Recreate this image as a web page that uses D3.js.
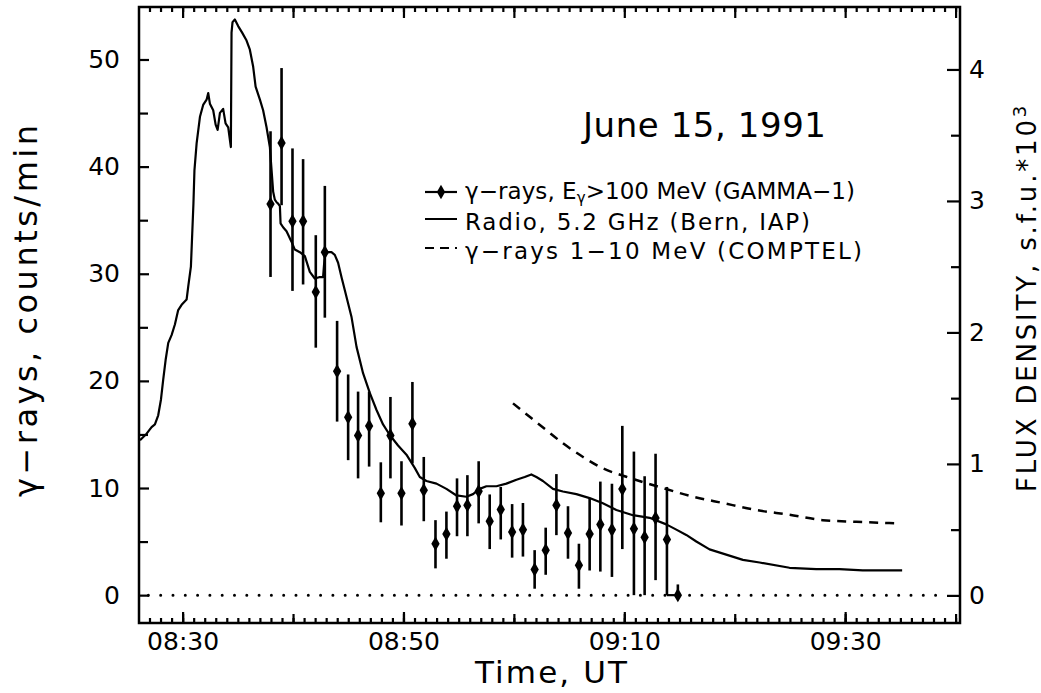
<!DOCTYPE html>
<html>
<head>
<meta charset="utf-8">
<script src="https://cdn.jsdelivr.net/npm/d3@7"></script>
<style>
body { margin: 0; background: #fff; }
text { font-family: "DejaVu Sans", sans-serif; fill: #000; }
</style>
</head>
<body>
<svg id="chart" width="1041" height="693"></svg>
<script>
// times are minutes after 08:00 UT
var gammaTime = [37.96, 38.96, 39.95, 40.91, 42.06, 42.88, 43.99, 44.99, 45.89, 46.89, 47.95, 48.82, 49.82, 50.81, 51.84, 52.9, 53.89, 54.85, 55.79, 56.81, 57.81, 58.81, 59.84, 60.82, 61.88, 62.88, 63.85, 64.9, 65.89, 66.86, 67.83, 68.88, 69.82, 70.87, 71.84, 72.83, 73.86, 74.85];
var gammaRate = [36.5, 42.2, 34.9, 34.9, 28.3, 32.0, 20.9, 16.6, 14.9, 15.8, 9.5, 14.9, 9.5, 16.0, 9.8, 4.8, 5.7, 8.3, 8.4, 9.7, 6.9, 8.0, 5.9, 6.1, 2.4, 4.2, 8.4, 5.8, 2.8, 5.7, 6.6, 6.1, 9.9, 6.2, 5.4, 7.2, 5.2, 0];
var gammaHigh = [43.3, 49.2, 41.7, 40.7, 33.6, 38.2, 25.6, 20.6, 19.0, 19.0, 12.4, 18.5, 12.5, 19.9, 12.9, 7.0, 7.8, 10.9, 11.2, 12.5, 9.4, 10.1, 8.5, 8.6, 4.2, 6.3, 11.3, 8.3, 4.8, 9.0, 10.6, 10.4, 15.8, 13.4, 11.1, 13.2, 10.1, 1.0];
var gammaLow = [29.7, 36.4, 28.4, 29.0, 23.1, 25.9, 16.2, 12.6, 10.9, 12.0, 6.8, 10.9, 6.5, 12.3, 6.9, 2.5, 3.4, 5.5, 5.5, 6.7, 4.3, 5.2, 3.5, 3.6, 0.6, 1.9, 5.6, 3.4, 0.6, 2.3, 2.2, 1.7, 4.3, 0, 0, 1.4, 0, 0];

// radio flux density, s.f.u. * 10^3 (right axis)
var radioTime = [26.14, 26.74, 27.19, 27.49, 27.79, 28.04, 28.24, 28.46, 28.70, 29.00, 29.30, 29.60, 29.91, 30.36, 30.51, 30.75, 30.87, 30.98, 31.07, 31.27, 31.57, 31.86, 32.17, 32.32, 32.47, 32.77, 32.99, 33.17, 33.38, 33.67, 33.89, 34.13, 34.37, 34.43, 34.52, 34.73, 35.03, 35.39, 35.79, 36.09, 36.39, 36.61, 37.00, 37.29, 37.60, 37.90, 38.05, 38.20, 38.35, 38.51, 38.65, 38.81, 38.87, 39.10, 39.41, 39.86, 40.16, 40.62, 41.07, 41.52, 41.97, 42.36, 42.72, 42.88, 43.18, 43.48, 43.78, 44.08, 44.39, 44.69, 44.99, 45.29, 45.75, 46.34, 46.95, 47.56, 48.15, 48.76, 49.51, 50.27, 51.02, 51.48, 52.08, 52.99, 53.89, 54.80, 55.70, 56.30, 56.90, 57.51, 58.42, 59.32, 60.23, 60.98, 61.58, 62.04, 62.63, 63.54, 64.44, 65.66, 66.86, 68.06, 69.28, 70.78, 72.29, 73.80, 74.71, 75.61, 76.52, 77.72, 79.23, 80.74, 82.25, 84.96, 87.38, 89.48, 91.59, 95.16];
var radioFlux = [1.18, 1.23, 1.28, 1.30, 1.37, 1.49, 1.64, 1.79, 1.92, 1.98, 2.06, 2.17, 2.21, 2.25, 2.35, 2.50, 2.75, 2.98, 3.23, 3.44, 3.64, 3.73, 3.77, 3.82, 3.74, 3.69, 3.58, 3.54, 3.67, 3.70, 3.59, 3.56, 3.41, 4.28, 4.36, 4.38, 4.33, 4.28, 4.22, 4.15, 4.02, 3.87, 3.77, 3.69, 3.56, 3.41, 3.24, 3.07, 3.01, 2.99, 2.98, 2.96, 2.83, 2.80, 2.77, 2.69, 2.63, 2.61, 2.58, 2.46, 2.41, 2.42, 2.42, 2.59, 2.61, 2.61, 2.59, 2.53, 2.42, 2.32, 2.22, 2.12, 1.89, 1.69, 1.54, 1.41, 1.30, 1.22, 1.14, 1.07, 0.97, 0.90, 0.87, 0.85, 0.81, 0.76, 0.75, 0.77, 0.81, 0.83, 0.83, 0.85, 0.88, 0.90, 0.92, 0.90, 0.87, 0.81, 0.79, 0.77, 0.74, 0.70, 0.65, 0.61, 0.59, 0.54, 0.50, 0.46, 0.41, 0.35, 0.31, 0.27, 0.25, 0.21, 0.20, 0.20, 0.19, 0.19];

// COMPTEL 1-10 MeV (left axis units)
var comptelTime = [59.92, 61.43, 62.94, 64.45, 66.26, 68.07, 70.18, 73.17, 76.21, 78.92, 81.95, 84.96, 87.97, 91.0, 94.6];
var comptelRate = [17.9, 16.65, 15.4, 14.17, 12.9, 11.83, 11.05, 10.1, 9.2, 8.6, 7.95, 7.5, 7.0, 6.85, 6.7];

var timeTicks = [30, 50, 70, 90];
var leftTicks = [0, 10, 20, 30, 40, 50];
var rightTicks = [0, 1, 2, 3, 4];

var svg = d3.select('#chart');
var L = 139, R = 960, T = 7, B = 623;

var x = d3.scaleLinear().domain([26.05, 100.4]).range([L, R]);
var yL = d3.scaleLinear().domain([-2.6, 54.9]).range([B, T]);
var yR = d3.scaleLinear().domain([-0.21, 4.475]).range([B, T]);

var fmtTime = function(m) {
    var h = 8 + Math.floor(m / 60), mm = m % 60;
    return String(h).padStart(2, '0') + ':' + String(mm).padStart(2, '0');
};

// draws an axis into its own group, ticks only, no domain line
function addAxis(axis, tx, ty, fontSize) {
    var g = svg.append('g').attr('transform', 'translate(' + tx + ',' + ty + ')').call(axis);
    g.select('.domain').remove();
    g.selectAll('line').attr('stroke', '#000').attr('stroke-width', 2.2);
    g.selectAll('text').attr('font-size', fontSize).attr('fill', '#000');
    return g;
}

// frame first, ticks on top of it
svg.append('rect').attr('x', L).attr('y', T).attr('width', R - L).attr('height', B - T)
    .attr('fill', 'none').attr('stroke', '#000').attr('stroke-width', 2.5);

// bottom & top time axes
var minutes = d3.range(27, 101);
var tens = d3.range(30, 101, 10);
addAxis(d3.axisBottom(x).tickValues(minutes).tickSizeInner(-5).tickSizeOuter(0).tickFormat(''), 0, B, 0);
addAxis(d3.axisBottom(x).tickValues(tens).tickSizeInner(-9).tickSizeOuter(0).tickFormat(''), 0, B, 0);
addAxis(d3.axisBottom(x).tickValues(timeTicks).tickSizeInner(-11).tickSizeOuter(0).tickPadding(9).tickFormat(fmtTime), 0, B, 25);
addAxis(d3.axisTop(x).tickValues(minutes).tickSizeInner(-5).tickSizeOuter(0).tickFormat(''), 0, T, 0);
addAxis(d3.axisTop(x).tickValues(tens).tickSizeInner(-11).tickSizeOuter(0).tickFormat(''), 0, T, 0);

// left axis
addAxis(d3.axisLeft(yL).tickValues(d3.range(5, 55, 10)).tickSizeInner(-9).tickSizeOuter(0).tickFormat(''), L, 0, 0);
addAxis(d3.axisLeft(yL).tickValues(leftTicks).tickSizeInner(-10).tickSizeOuter(0).tickPadding(19), L, 0, 25);

// right axis
addAxis(d3.axisRight(yR).tickValues(d3.range(0.5, 4, 1)).tickSizeInner(-9).tickSizeOuter(0).tickFormat(''), R, 0, 0);
addAxis(d3.axisRight(yR).tickValues(rightTicks).tickSizeInner(-13).tickSizeOuter(0).tickPadding(9).tickFormat(d3.format('d')), R, 0, 25);

// zero level dotted line
svg.append('line').attr('x1', x(26.9)).attr('x2', x(99)).attr('y1', yL(0)).attr('y2', yL(0))
    .attr('stroke', '#000').attr('stroke-width', 3).attr('stroke-linecap', 'round')
    .attr('stroke-dasharray', '0,12.3');

// radio curve
var radio = radioTime.map((t, i) => [t, radioFlux[i]]);
svg.append('path').datum(radio)
    .attr('d', d3.line().x(d => x(d[0])).y(d => yR(d[1])))
    .attr('fill', 'none').attr('stroke', '#000').attr('stroke-width', 2.2).attr('stroke-linejoin', 'round');

// COMPTEL dashed curve
var comptel = comptelTime.map((t, i) => [t, comptelRate[i]]);
svg.append('path').datum(comptel)
    .attr('d', d3.line().curve(d3.curveMonotoneX).x(d => x(d[0])).y(d => yL(d[1])))
    .attr('fill', 'none').attr('stroke', '#000').attr('stroke-width', 2.5).attr('stroke-dasharray', '9,7');

// gamma-ray points with error bars
var gamma = gammaTime.map((t, i) => ({t: t, v: gammaRate[i], lo: gammaLow[i], hi: gammaHigh[i]}));
svg.append('g').selectAll('line').data(gamma).join('line')
    .attr('x1', d => x(d.t)).attr('x2', d => x(d.t))
    .attr('y1', d => yL(d.lo)).attr('y2', d => yL(d.hi))
    .attr('stroke', '#000').attr('stroke-width', 2.6);
var n = gamma.length;
svg.append('line')
    .attr('x1', x(gamma[n - 2].t)).attr('x2', x(gamma[n - 1].t))
    .attr('y1', yL(gamma[n - 2].lo)).attr('y2', yL(gamma[n - 1].v))
    .attr('stroke', '#000').attr('stroke-width', 2.2);
var diamond = d3.symbol().type(d3.symbolDiamond).size(60);
svg.append('g').selectAll('path').data(gamma).join('path')
    .attr('transform', d => 'translate(' + x(d.t) + ',' + yL(d.v) + ')')
    .attr('d', diamond).attr('fill', '#000');

// title
svg.append('text').attr('x', 583).attr('y', 137).attr('font-size', 34)
    .attr('textLength', 243).text('June 15, 1991');

// legend
var legendRows = [199, 230, 259];
var lx1 = 425, lx2 = 457;
svg.append('line').attr('x1', lx1).attr('x2', lx2).attr('y1', legendRows[0] - 7).attr('y2', legendRows[0] - 7)
    .attr('stroke', '#000').attr('stroke-width', 2.2);
svg.append('path').attr('transform', 'translate(' + (lx1 + lx2) / 2 + ',' + (legendRows[0] - 7) + ')')
    .attr('d', diamond).attr('fill', '#000');
svg.append('line').attr('x1', lx1).attr('x2', lx2).attr('y1', legendRows[1] - 11).attr('y2', legendRows[1] - 11)
    .attr('stroke', '#000').attr('stroke-width', 2);
svg.append('line').attr('x1', lx1).attr('x2', lx2).attr('y1', legendRows[2] - 11).attr('y2', legendRows[2] - 11)
    .attr('stroke', '#000').attr('stroke-width', 2).attr('stroke-dasharray', '9,6');

var t1 = svg.append('text').attr('x', 465).attr('y', legendRows[0]).attr('font-size', 23).attr('textLength', 390);
t1.append('tspan').text('γ−rays, E');
t1.append('tspan').attr('font-size', 15).attr('dy', 4).text('γ');
t1.append('tspan').attr('dy', -4).text('>100 MeV (GAMMA−1)');
svg.append('text').attr('x', 465).attr('y', legendRows[1]).attr('font-size', 23).attr('textLength', 345)
    .text('Radio, 5.2 GHz (Bern, IAP)');
svg.append('text').attr('x', 465).attr('y', legendRows[2]).attr('font-size', 23).attr('textLength', 397)
    .text('γ−rays 1−10 MeV (COMPTEL)');

// axis titles
svg.append('text').attr('transform', 'translate(37,311) rotate(-90)').attr('text-anchor', 'middle')
    .attr('font-size', 32).attr('textLength', 372).text('γ−rays, counts/min');

svg.append('text').attr('x', (475 + 627) / 2).attr('y', 683).attr('text-anchor', 'middle')
    .attr('font-size', 31).attr('textLength', 152).text('Time, UT');

var rt = svg.append('text').attr('transform', 'translate(1036,492) rotate(-90)').attr('font-size', 26);
rt.append('tspan').attr('textLength', 372).text('FLUX DENSITY, s.f.u.*10');
rt.append('tspan').attr('font-size', 18).attr('dy', -10).text('3');
</script>
</body>
</html>
